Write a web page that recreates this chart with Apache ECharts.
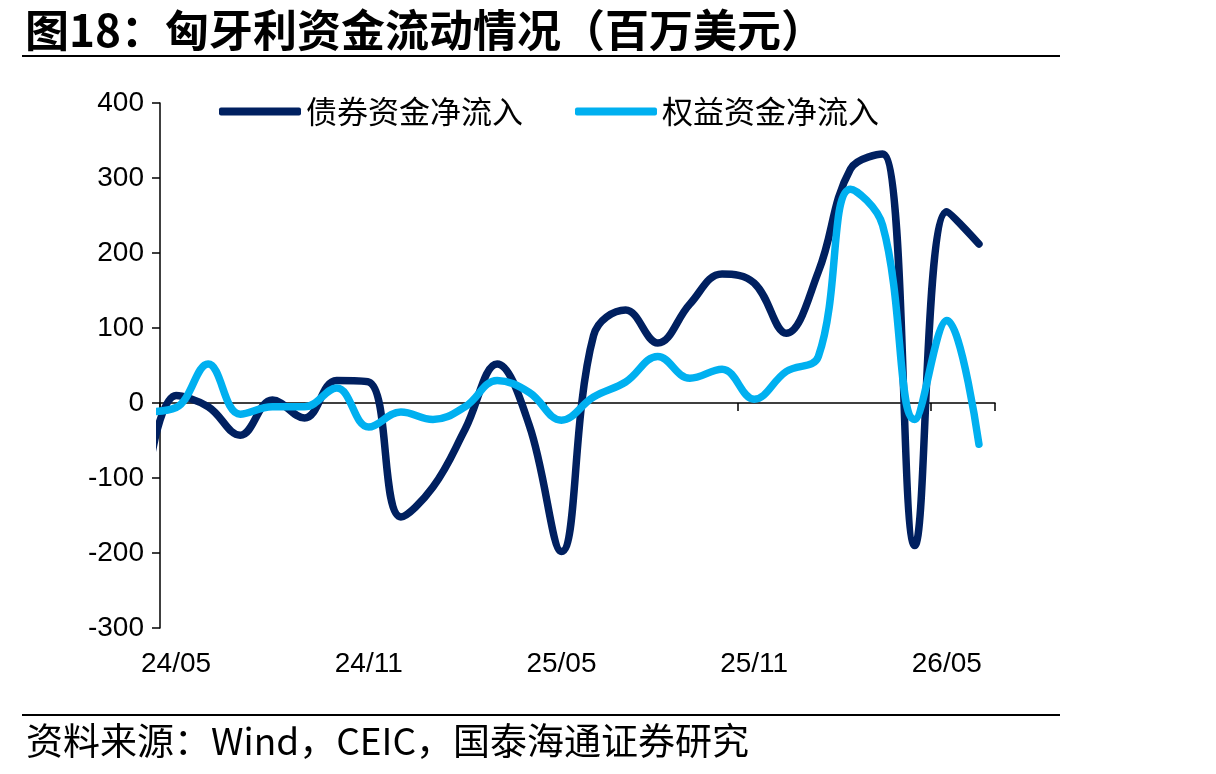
<!DOCTYPE html>
<html>
<head>
<meta charset="utf-8">
<script src="https://cdn.jsdelivr.net/npm/echarts@6/dist/echarts.min.js"></script>
<style>
  html, body { margin: 0; padding: 0; background: #fff; }
  #chart { width: 1216px; height: 774px; }
</style>
</head>
<body>
<div id="chart"></div>
<script>
// months: first entry (24/04) sits just left of the plot and is clipped
const months = ['24/04', '24/05', '24/06', '24/07', '24/08', '24/09', '24/10', '24/11', '24/12',
  '25/01', '25/02', '25/03', '25/04', '25/05', '25/06', '25/07', '25/08', '25/09', '25/10',
  '25/11', '25/12', '26/01', '26/02', '26/03', '26/04', '26/05', '26/06']
const bondFlow = [-135, 10, -5, -43, 4, -20, 30, 28, -152, -112, -35, 52, -30, -198,
  90, 124, 80, 132, 172, 160, 93, 175, 312, 332, -190, 255, 212]
const equityFlow = [-12, -6, 52, -15, -5, -5, 20, -32, -12, -22, -5, 30, 14, -23,
  8, 28, 62, 33, 45, 5, 42, 62, 285, 237, -22, 110, -55]
const yTicks = { min: -300, max: 400, step: 100 }

const axisCats = months.slice(1)
const toPoints = arr => arr.map((v, i) => [i - 1, v])

const cjk = '"Noto Sans CJK SC", sans-serif'
const latin = '"Liberation Sans", Arial, sans-serif'

const chart = echarts.init(document.getElementById('chart'))
chart.setOption({
  animation: false,
  backgroundColor: '#fff',
  title: {
    text: '图18：匈牙利资金流动情况（百万美元）',
    left: 20,
    top: 3,
    textStyle: { fontFamily: cjk, fontSize: 44, fontWeight: 'bold', color: '#000' }
  },
  legend: {
    left: 214,
    top: 91,
    icon: 'roundRect',
    itemWidth: 82,
    itemHeight: 8,
    itemGap: 52,
    textStyle: { fontFamily: cjk, fontSize: 31, color: '#000' },
    data: ['债券资金净流入', '权益资金净流入']
  },
  grid: { left: 160, right: 221, top: 103, bottom: 146 },
  xAxis: [
    {
      // zero line with ticks between months
      type: 'category',
      data: axisCats,
      position: 'bottom',
      boundaryGap: true,
      axisLine: { onZero: true, lineStyle: { color: '#000', width: 1.5 } },
      axisTick: { show: true, interval: 5, length: 8, lineStyle: { color: '#000', width: 1.5 } },
      axisLabel: { show: false },
      splitLine: { show: false }
    },
    {
      // month labels at the bottom
      type: 'category',
      data: axisCats,
      position: 'bottom',
      boundaryGap: true,
      axisLine: { show: false, onZero: false },
      axisTick: { show: false },
      axisLabel: { interval: 5, margin: 22, fontFamily: latin, fontSize: 28, color: '#000' },
      splitLine: { show: false }
    },
    {
      // value axis carrying the series, in month steps
      type: 'value',
      min: -0.5,
      max: axisCats.length - 0.5,
      show: false,
      axisLine: { onZero: false },
      splitLine: { show: false }
    }
  ],
  yAxis: {
    type: 'value',
    min: yTicks.min,
    max: yTicks.max,
    interval: yTicks.step,
    axisLine: { show: true, onZero: false, lineStyle: { color: '#000', width: 1.5 } },
    axisTick: { show: true, length: 8, lineStyle: { color: '#000', width: 1.5 } },
    axisLabel: { margin: 16, fontFamily: latin, fontSize: 28, color: '#000' },
    splitLine: { show: false }
  },
  series: [
    {
      name: '债券资金净流入',
      type: 'line',
      xAxisIndex: 2,
      smooth: 0.4,
      symbol: 'none',
      clip: true,
      lineStyle: { color: '#002060', width: 7.5, cap: 'round', join: 'round' },
      itemStyle: { color: '#002060' },
      data: toPoints(bondFlow)
    },
    {
      name: '权益资金净流入',
      type: 'line',
      xAxisIndex: 2,
      smooth: 0.4,
      symbol: 'none',
      clip: true,
      lineStyle: { color: '#00B0F0', width: 7.5, cap: 'round', join: 'round' },
      itemStyle: { color: '#00B0F0' },
      data: toPoints(equityFlow)
    }
  ],
  graphic: [
    {
      type: 'line',
      shape: { x1: 22, y1: 56, x2: 1060, y2: 56 },
      style: { stroke: '#000', lineWidth: 2 }
    },
    {
      type: 'line',
      shape: { x1: 22, y1: 715, x2: 1060, y2: 715 },
      style: { stroke: '#000', lineWidth: 2 }
    },
    {
      type: 'text',
      left: 26,
      top: 722,
      style: {
        text: '资料来源：Wind，CEIC，国泰海通证券研究',
        font: '37px ' + cjk,
        fill: '#000'
      }
    }
  ]
})
</script>
</body>
</html>
